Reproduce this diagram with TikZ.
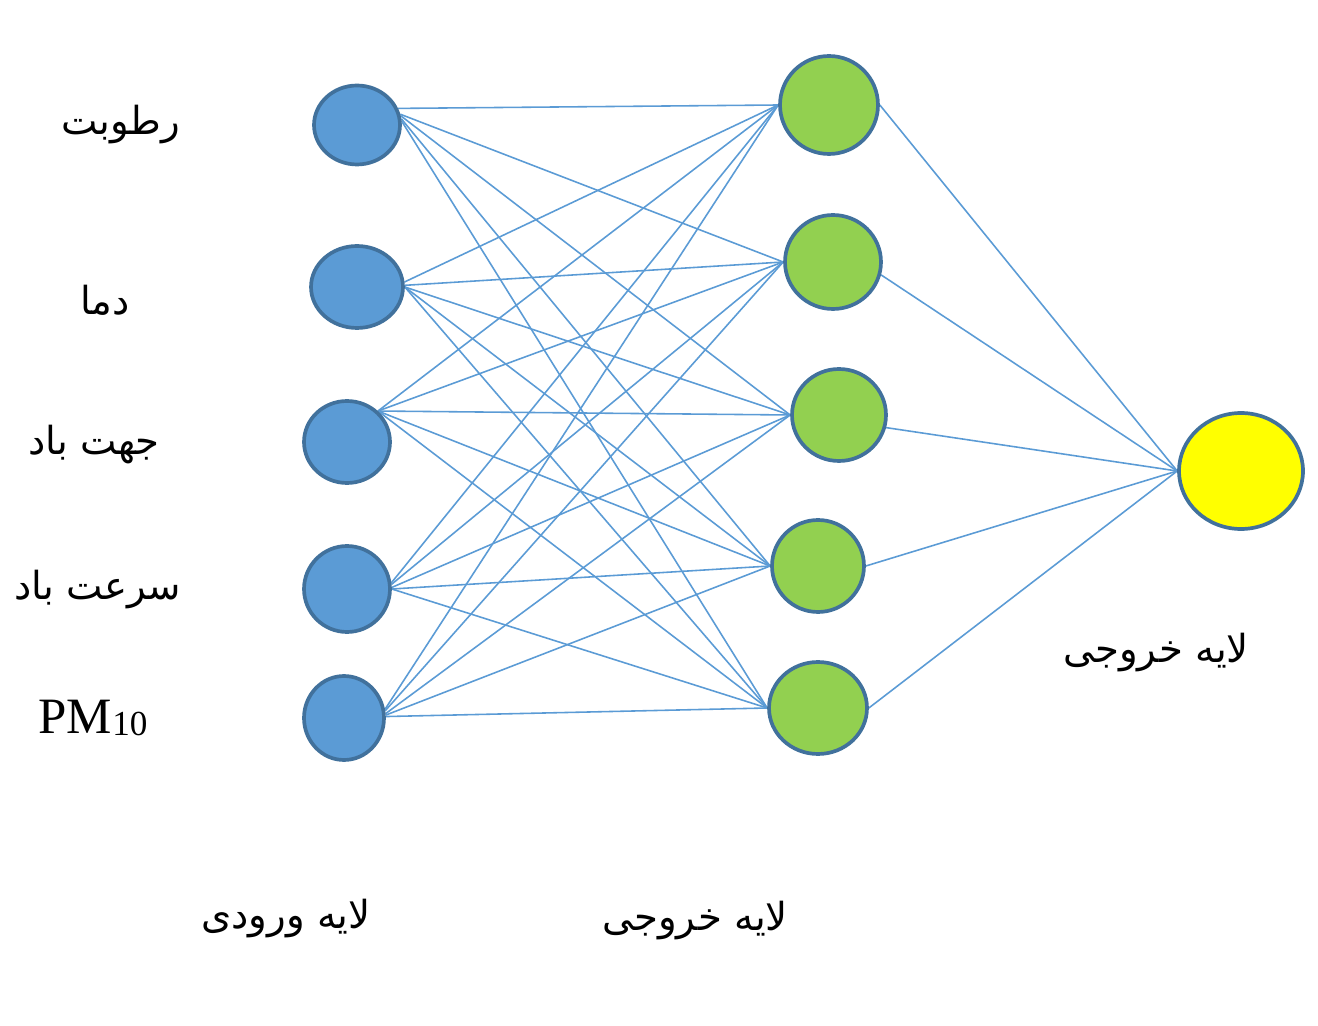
\documentclass[tikz,border=0pt]{standalone}
\usepackage{fontspec}
\setmainfont{Liberation Serif}
\newfontfamily\arabicfont[Script=Arabic]{DejaVu Sans}
\TeXXeTstate=1
\usetikzlibrary{shapes.geometric,backgrounds}
\definecolor{inblue}{HTML}{5B9BD5}
\definecolor{rimblue}{HTML}{41719C}
\definecolor{hidgreen}{HTML}{92D050}
\definecolor{outyellow}{HTML}{FFFF00}
\tikzset{
  neuron/.style={ellipse,draw=rimblue,line width=2.1pt,inner sep=0pt},
  innode/.style={neuron,fill=inblue},
  hidnode/.style={neuron,fill=hidgreen},
  outnode/.style={neuron,fill=outyellow},
  wire/.style={draw=inblue,line width=0.9pt},
  fatxt/.style={font=\fontsize{22}{25}\selectfont\arabicfont},
}
\begin{document}
\begin{tikzpicture}[x=0.02cm,y=-0.02cm]
\useasboundingbox (0,0) rectangle (1318,1026);
% input nodes
\node[innode,minimum width=1.72cm,minimum height=1.58cm] (i1) at (357,125) {};
\node[innode,minimum width=1.84cm,minimum height=1.64cm] (i2) at (357,287) {};
\node[innode,minimum width=1.72cm,minimum height=1.64cm] (i3) at (347,442) {};
\node[innode,minimum width=1.72cm,minimum height=1.72cm] (i4) at (347,589) {};
\node[innode,minimum width=1.6cm,minimum height=1.68cm] (i5) at (344,718) {};
% hidden nodes
\node[hidnode,minimum width=1.96cm,minimum height=1.96cm] (h1) at (829,105) {};
\node[hidnode,minimum width=1.92cm,minimum height=1.88cm] (h2) at (833,262) {};
\node[hidnode,minimum width=1.88cm,minimum height=1.84cm] (h3) at (839,415) {};
\node[hidnode,minimum width=1.84cm,minimum height=1.84cm] (h4) at (818,566) {};
\node[hidnode,minimum width=1.96cm,minimum height=1.84cm] (h5) at (818,708) {};
% output node
\node[outnode,minimum width=2.48cm,minimum height=2.32cm] (o) at (1241,471) {};
% connectors
\begin{scope}[on background layer]
\draw[wire] (i1.22) -- (h1.180);
\draw[wire] (i1.14) -- (h2.180);
\draw[wire] (i1.12) -- (h3.180);
\draw[wire] (i1.8) -- (h4.180);
\draw[wire] (i1.5) -- (h5.180);
\draw[wire] (i2.6) -- (h1.180);
\draw[wire] (i2.2) -- (h2.180);
\draw[wire] (i2.0) -- (h3.180);
\draw[wire] (i2.0) -- (h4.180);
\draw[wire] (i2.0) -- (h5.180);
\draw[wire] (i3.45) -- (h1.180);
\draw[wire] (i3.45) -- (h2.180);
\draw[wire] (i3.45) -- (h3.180);
\draw[wire] (i3.45) -- (h4.180);
\draw[wire] (i3.45) -- (h5.180);
\draw[wire] (i4.8) -- (h1.180);
\draw[wire] (i4.6) -- (h2.180);
\draw[wire] (i4.2) -- (h3.180);
\draw[wire] (i4.0) -- (h4.180);
\draw[wire] (i4.0) -- (h5.180);
\draw[wire] (i5.12) -- (h1.180);
\draw[wire] (i5.10) -- (h2.180);
\draw[wire] (i5.6) -- (h3.180);
\draw[wire] (i5.4) -- (h4.180);
\draw[wire] (i5.2) -- (h5.180);
\draw[wire] (h1.0) -- (o.180);
\draw[wire] (h2.-15) -- (o.180);
\draw[wire] (h3.-15) -- (o.180);
\draw[wire] (h4.0) -- (o.180);
\draw[wire] (h5.0) -- (o.180);
\end{scope}
% labels
\node[fatxt] (l1) at (121,125) {\beginR رطوبت\endR};
\node[fatxt] (l2) at (105,300) {\beginR دما\endR};
\node[fatxt] (l3) at (94,445) {\beginR جهت باد\endR};
\node[fatxt] (l4) at (98,590) {\beginR سرعت باد\endR};
\node[font=\fontsize{29}{32}\selectfont] (l5) at (93,718) {PM\raisebox{-0.12ex}{\fontsize{20}{22}\selectfont 10}};
\node[fatxt] (t1) at (286,919) {\beginR لایه ورودی\endR};
\node[fatxt] (t2) at (695,921) {\beginR لایه خروجی\endR};
\node[fatxt] (t3) at (1156,653) {\beginR لایه خروجی\endR};
\end{tikzpicture}
\end{document}
